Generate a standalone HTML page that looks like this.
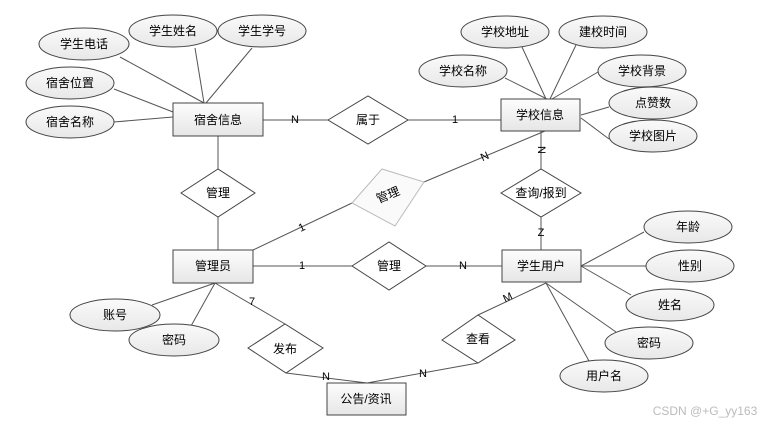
<!DOCTYPE html>
<html><head><meta charset="utf-8"><style>
html,body{margin:0;padding:0;background:#fff;}
svg{display:block;}
text{font-family:"Liberation Sans","Noto Sans CJK SC",sans-serif;font-size:12px;fill:#000;text-anchor:middle;dominant-baseline:central;}
.l{stroke:#555;stroke-width:1;fill:none;}
.s{fill:url(#g);stroke:#444;stroke-width:1;}
.d{fill:#fff;stroke:#444;stroke-width:1;}
</style></head><body>
<svg width="770" height="425" viewBox="0 0 770 425" xmlns="http://www.w3.org/2000/svg">
<defs>
<linearGradient id="g" x1="0" y1="0" x2="0" y2="1"><stop offset="0" stop-color="#fdfdfd"/><stop offset="1" stop-color="#e6e6e6"/></linearGradient>
<linearGradient id="e" x1="0" y1="0" x2="0" y2="1"><stop offset="0" stop-color="#fafafa"/><stop offset="1" stop-color="#e8e8e8"/></linearGradient>
</defs>
<g class="l">
<line x1="120" y1="57" x2="204" y2="103"/>
<line x1="195" y1="48" x2="204" y2="103"/>
<line x1="252" y1="48" x2="206" y2="103"/>
<line x1="114" y1="89" x2="173" y2="112"/>
<line x1="114" y1="122" x2="173" y2="117"/>
<line x1="263" y1="120" x2="328" y2="120"/>
<line x1="408" y1="120" x2="501" y2="120"/>
<line x1="218" y1="136" x2="218" y2="250"/>
<line x1="253" y1="250" x2="352" y2="203"/>
<line x1="424" y1="182" x2="545" y2="131"/>
<line x1="505" y1="78" x2="547" y2="99"/>
<line x1="522" y1="47" x2="546" y2="99"/>
<line x1="576" y1="45" x2="550" y2="99"/>
<line x1="598" y1="72" x2="552" y2="99"/>
<line x1="609" y1="107" x2="581" y2="115"/>
<line x1="609" y1="139" x2="581" y2="118"/>
<line x1="541" y1="131" x2="541" y2="250"/>
<line x1="253" y1="266" x2="502" y2="266"/>
<line x1="581" y1="266" x2="644" y2="232"/>
<line x1="581" y1="266" x2="646" y2="266"/>
<line x1="581" y1="266" x2="631" y2="295"/>
<line x1="546" y1="283" x2="616" y2="332"/>
<line x1="546" y1="283" x2="589" y2="361"/>
<line x1="215" y1="283" x2="152" y2="305"/>
<line x1="215" y1="283" x2="191" y2="326"/>
<line x1="215" y1="283" x2="285" y2="324"/>
<line x1="478" y1="315" x2="546" y2="283"/>
<line x1="286" y1="373" x2="367" y2="383"/>
<line x1="478" y1="363" x2="367" y2="383"/>
</g>
<g fill="url(#e)" stroke="#444">
<ellipse cx="84" cy="44" rx="45" ry="16"/>
<ellipse cx="173" cy="31" rx="44" ry="16"/>
<ellipse cx="262" cy="31" rx="44" ry="16"/>
<ellipse cx="70" cy="83" rx="44" ry="16"/>
<ellipse cx="70" cy="122" rx="44" ry="16"/>
<ellipse cx="505" cy="32" rx="44" ry="16"/>
<ellipse cx="603" cy="32" rx="44" ry="16"/>
<ellipse cx="463" cy="71" rx="44" ry="16"/>
<ellipse cx="642" cy="71" rx="44" ry="16"/>
<ellipse cx="653" cy="103" rx="44" ry="16"/>
<ellipse cx="653" cy="136" rx="44" ry="16"/>
<ellipse cx="688" cy="227" rx="44" ry="16"/>
<ellipse cx="690" cy="266" rx="44" ry="16"/>
<ellipse cx="670" cy="305" rx="44" ry="16"/>
<ellipse cx="649" cy="343" rx="44" ry="16"/>
<ellipse cx="604" cy="376" rx="44" ry="16"/>
<ellipse cx="115" cy="315" rx="45" ry="16"/>
<ellipse cx="174" cy="340" rx="45" ry="16"/>
</g>
<rect class="s" x="173" y="103" width="90" height="33"/>
<rect class="s" x="501" y="99" width="79" height="32"/>
<rect class="s" x="173" y="250" width="80" height="33"/>
<rect class="s" x="502" y="250" width="79" height="32"/>
<rect class="s" x="327" y="383" width="79" height="32"/>
<polygon class="d" points="328,120 368,96 408,120 368,144"/>
<polygon class="d" points="181,193 218,169 255,193 218,217"/>
<polygon class="d" points="501,193 541,169 581,193 541,217"/>
<polygon class="d" points="352,266 389,242 426,266 389,290"/>
<polygon class="d" points="248,348 285,324 323,348 286,373"/>
<polygon class="d" points="442,340 478,315 515,340 478,363"/>
<polygon points="352,203 382,169 424,182 395,226" fill="#fafafa" stroke="#bbb"/>
<text x="218" y="120">宿舍信息</text>
<text x="540" y="115">学校信息</text>
<text x="213" y="266">管理员</text>
<text x="541" y="266">学生用户</text>
<text x="366" y="399">公告/资讯</text>
<text x="368" y="120">属于</text>
<text x="218" y="193">管理</text>
<text x="541" y="193">查询/报到</text>
<text x="389" y="266">管理</text>
<text x="285" y="349">发布</text>
<text x="478" y="339">查看</text>
<text x="388" y="195" transform="rotate(-22 388 195)">管理</text>
<text x="84" y="44">学生电话</text>
<text x="173" y="31">学生姓名</text>
<text x="262" y="31">学生学号</text>
<text x="70" y="83">宿舍位置</text>
<text x="70" y="122">宿舍名称</text>
<text x="505" y="32">学校地址</text>
<text x="603" y="32">建校时间</text>
<text x="463" y="71">学校名称</text>
<text x="642" y="71">学校背景</text>
<text x="653" y="103">点赞数</text>
<text x="653" y="136">学校图片</text>
<text x="688" y="227">年龄</text>
<text x="690" y="266">性别</text>
<text x="670" y="305">姓名</text>
<text x="649" y="343">密码</text>
<text x="604" y="376">用户名</text>
<text x="115" y="315">账号</text>
<text x="174" y="340">密码</text>
<g style="font-size:11px">
<text x="295" y="120" style="font-size:11px">N</text>
<text x="455" y="120" style="font-size:11px">1</text>
<text x="302" y="228" style="font-size:11px" transform="rotate(-25 302 228)">1</text>
<text x="485" y="157" style="font-size:11px" transform="rotate(-25 485 157)">N</text>
<text x="541" y="150" style="font-size:11px" transform="rotate(90 541 150)">N</text>
<text x="541" y="233" style="font-size:11px">Z</text>
<text x="302" y="266" style="font-size:11px">1</text>
<text x="463" y="266" style="font-size:11px">N</text>
<text x="252" y="302" style="font-size:11px">7</text>
<text x="508" y="298" style="font-size:11px" transform="rotate(-25 508 298)">M</text>
<text x="326" y="377" style="font-size:11px">N</text>
<text x="423" y="374" style="font-size:11px">N</text>
</g>
<text x="705" y="411" style="fill:#bbb;font-size:12px">CSDN @+G_yy163</text>
</svg>
</body></html>
